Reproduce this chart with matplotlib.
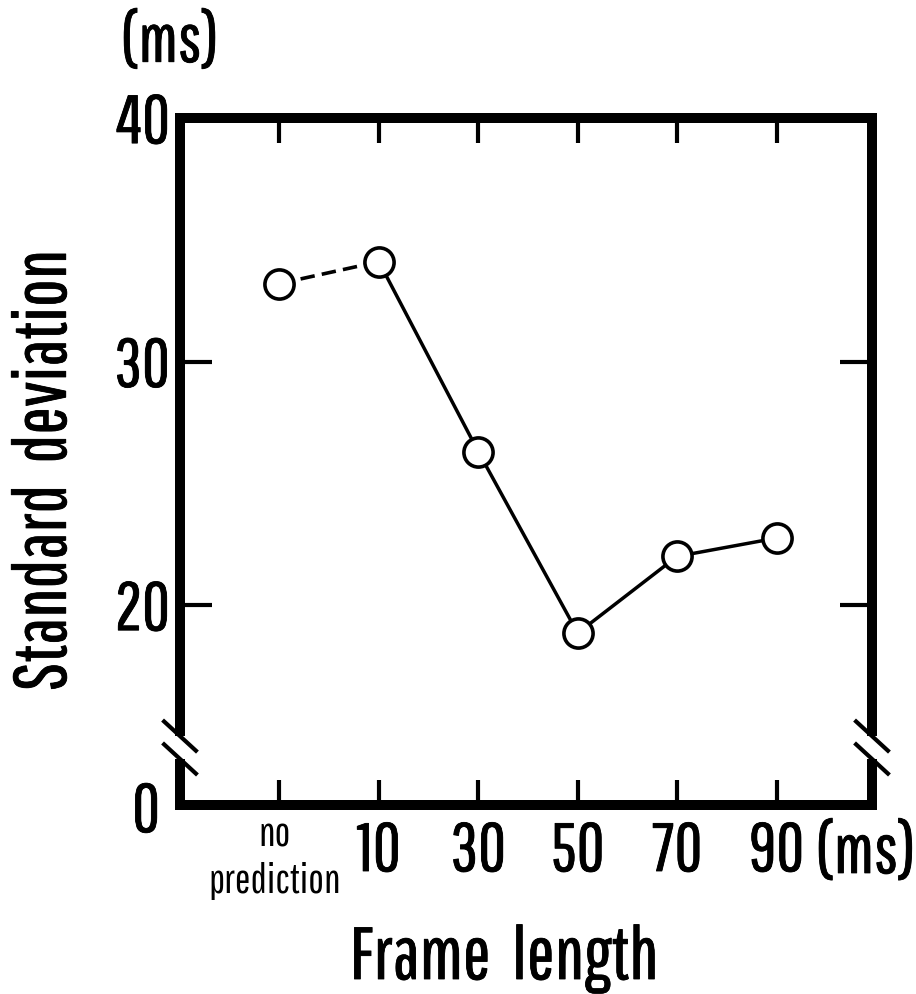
import numpy as np
import matplotlib
matplotlib.use('Agg')
import matplotlib.pyplot as plt
import matplotlib.patheffects as pe
from matplotlib import font_manager

# data
categories = ['no\nprediction', '10', '30', '50', '70', '90']
sd_values = [33.2, 34.1, 26.3, 18.85, 22.0, 22.75]
ytick_vals = [20, 30, 40]

# condensed gothic face, like the original print
names = {f.name for f in font_manager.fontManager.ttflist}
wanted = ['Pathway Gothic One', 'League Gothic', 'Oswald']
fams = [n for n in wanted if n in names] + ['DejaVu Sans']
plt.rcParams['font.family'] = fams

# a touch heavier strokes, the scan is inky
bold = [pe.withStroke(linewidth=0.6, foreground='black')]

Y_BOTTOM = 11.79  # the broken axis shows "0" here
BREAK = (13.68, 14.62)

fig = plt.figure(figsize=(9.16, 9.95), dpi=100)
ax = fig.add_axes([180 / 916, 189 / 995, 692 / 916, 687 / 995])

x = np.arange(len(categories))

# dashed from "no prediction" to 10, solid for the rest
ax.plot(x[:2], sd_values[:2], color='black', lw=2.6, ls=(0, (4, 2)), zorder=2)
ax.plot(x[1:], sd_values[1:], color='black', lw=2.5, zorder=2)
ax.plot(x, sd_values, 'o', ms=21, mfc='white', mec='black', mew=2.6, zorder=3)

ax.set_xlim(-1.0, 5.96)
ax.set_ylim(Y_BOTTOM, 40)

for s in ax.spines.values():
    s.set_linewidth(7.2)
    s.set_capstyle('projecting')

ax.set_xticks(x)
ax.set_xticklabels([])
ax.tick_params(axis='x', which='both', direction='in', top=True, bottom=True,
               length=18, width=3, labelbottom=False)
ax.set_yticks(ytick_vals)
ax.set_yticklabels([])
ax.tick_params(axis='y', direction='in', left=True, right=False, length=23, width=3,
               labelleft=False)
for v in [20, 30]:
    ax.plot([5.96 - 0.32, 5.96], [v, v], color='black', lw=3, solid_capstyle='butt', clip_on=False)

# y tick labels
for v, lab in [(40, '40'), (30, '30'), (20, '20')]:
    ax.text(-1.1, v - 1.03, lab, fontsize=49, ha='right', va='baseline', path_effects=bold)
ax.text(-1.2, Y_BOTTOM - 1.1, '0', fontsize=49, ha='right', va='baseline', path_effects=bold)

# x tick labels
for xi, lab in zip(x, categories):
    if '\n' in lab:
        top, bottom = lab.split('\n')
        ax.text(xi - 0.05, 10.11, top, fontsize=30, ha='center', va='baseline')
        ax.text(xi - 0.05, 8.22, bottom, fontsize=30, ha='center', va='baseline')
    else:
        ax.text(xi, 9.08, lab, fontsize=49, ha='center', va='baseline', path_effects=bold)
ax.text(5.9, 9.78, '(ms)', fontsize=49, ha='center', va='center', path_effects=bold)

# units above the y axis
fig.text(170 / 916, 1 - 44 / 995, '(ms)', fontsize=48, ha='center', va='center',
         path_effects=bold)

# axis titles
fig.text(45 / 916, 1 - 472 / 995, 'Standard  deviation', fontsize=53, rotation=90,
         ha='center', va='center', path_effects=bold)
fig.text(504 / 916, 1 - 980 / 995, 'Frame  length', fontsize=53, ha='center', va='baseline',
         path_effects=bold)

# axis breaks on both sides
for xe in (-1.0, 5.96):
    ax.plot([xe, xe], list(BREAK), color='white', lw=10, solid_capstyle='butt',
            clip_on=False, zorder=5)
    for yb in BREAK:
        ax.plot([xe - 0.16, xe + 0.16], [yb + 0.6, yb - 0.6], color='black', lw=3,
                clip_on=False, zorder=6)

plt.savefig('out.png', dpi=100, facecolor='white')
plt.close()
